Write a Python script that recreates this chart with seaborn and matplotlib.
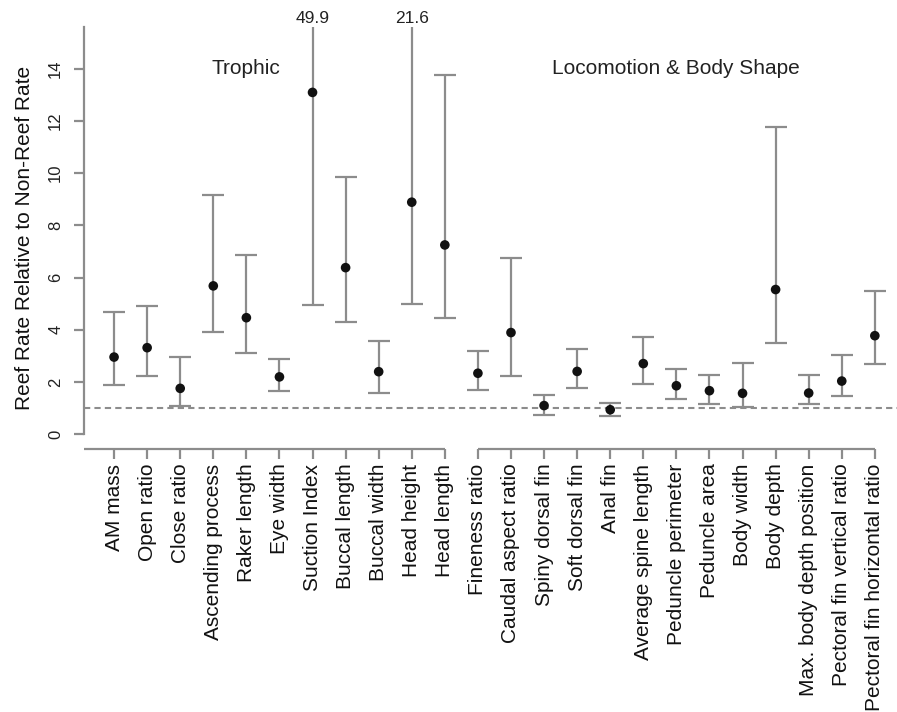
import matplotlib
matplotlib.use("Agg")
import matplotlib.pyplot as plt
import seaborn as sns
import pandas as pd

# trait names, in plotting order (trophic first, then locomotion)
traits = ["AM mass", "Open ratio", "Close ratio", "Ascending process", "Raker length",
          "Eye width", "Suction Index", "Buccal length", "Buccal width", "Head height",
          "Head length",
          "Fineness ratio", "Caudal aspect ratio", "Spiny dorsal fin", "Soft dorsal fin",
          "Anal fin", "Average spine length", "Peduncle perimeter", "Peduncle area",
          "Body width", "Body depth", "Max. body depth position",
          "Pectoral fin vertical ratio", "Pectoral fin horizontal ratio"]
groups = ["Trophic"] * 11 + ["Locomotion & Body Shape"] * 13
# trait each group title sits over
group_title_at = {"Trophic": "Raker length", "Locomotion & Body Shape": "Peduncle perimeter"}

# reef rate relative to non-reef rate, with interval bounds
rate = [2.95, 3.31, 1.75, 5.68, 4.46, 2.19, 13.1, 6.38, 2.39, 8.89, 7.25,
        2.33, 3.89, 1.09, 2.40, 0.93, 2.70, 1.85, 1.66, 1.56, 5.54, 1.57, 2.03, 3.77]
lower = [1.88, 2.24, 1.07, 3.92, 3.11, 1.66, 4.95, 4.28, 1.58, 5.00, 4.44,
         1.70, 2.24, 0.73, 1.78, 0.70, 1.91, 1.35, 1.16, 1.02, 3.50, 1.14, 1.46, 2.67]
upper = [4.69, 4.91, 2.94, 9.17, 6.87, 2.87, 49.9, 9.87, 3.58, 21.6, 13.76,
         3.17, 6.76, 1.51, 3.26, 1.20, 3.72, 2.49, 2.26, 2.74, 11.79, 2.26, 3.03, 5.50]

df = pd.DataFrame({"trait": traits, "group": groups, "rate": rate,
                   "lower": lower, "upper": upper})
df["pos"] = range(len(df))

sns.set_style("ticks")
plt.rcParams["font.family"] = ["Liberation Sans", "DejaVu Sans"]

grey = "#8c8c8c"
y_top = 15.59
y_bot = -0.575

fig = plt.figure(figsize=(8.97, 7.12), dpi=100)
ax = fig.add_axes([0.0936, 0.3694, 0.9064, 0.592])

ax.axhline(1, color=grey, lw=1.5, ls=(0, (3, 2)), zorder=1)
ax.errorbar(df["pos"], df["rate"],
            yerr=[df["rate"] - df["lower"], df["upper"] - df["rate"]],
            fmt="none", ecolor=grey, elinewidth=1.6, capsize=8, capthick=1.6, zorder=2)
sns.scatterplot(data=df, x="pos", y="rate", color="#111111", s=48,
                edgecolor="none", ax=ax, zorder=3, legend=False)

ax.set_xlim(-0.91, 23.67)
ax.set_ylim(y_bot, y_top)

# values that run off the top
for _, r in df[df["upper"] > y_top].iterrows():
    ax.annotate(f"{r['upper']:.1f}", xy=(r["pos"], 1.0), xycoords=("data", "axes fraction"),
                xytext=(0, 3), textcoords="offset points", ha="center", va="baseline",
                fontsize=12.5, color="#222222", annotation_clip=False)

# group titles
pos_of = dict(zip(df["trait"], df["pos"]))
for g, t in group_title_at.items():
    ax.text(pos_of[t], 14, g, ha="center", va="center", fontsize=15, color="#222222")

# axes, R style
for s in ["top", "right", "bottom"]:
    ax.spines[s].set_visible(False)
ax.spines["left"].set_bounds(0, y_top)
ax.spines["left"].set_color(grey)
ax.spines["left"].set_linewidth(1.6)

for g, sub in df.groupby("group", sort=False):
    x0 = ax.get_xlim()[0] if sub["pos"].min() == 0 else sub["pos"].min()
    ax.plot([x0, sub["pos"].max()], [y_bot, y_bot], color=grey, lw=1.6,
            clip_on=False, solid_capstyle="butt")

ax.set_xticks(df["pos"])
ax.set_xticklabels(df["trait"], rotation=90, fontsize=15, color="#111111")
ax.set_yticks(range(0, 15, 2))
ax.set_yticklabels([str(v) for v in range(0, 15, 2)], rotation=90, va="center",
                   fontsize=12, color="#222222")
ax.tick_params(axis="x", length=7, width=1.6, color=grey, pad=3.5)
ax.tick_params(axis="y", length=7, width=1.6, color=grey, pad=8)
ax.set_xlabel("")
ax.set_ylabel("Reef Rate Relative to Non-Reef Rate", fontsize=15, labelpad=10,
              color="#111111")

fig.savefig("out.png", dpi=100)
